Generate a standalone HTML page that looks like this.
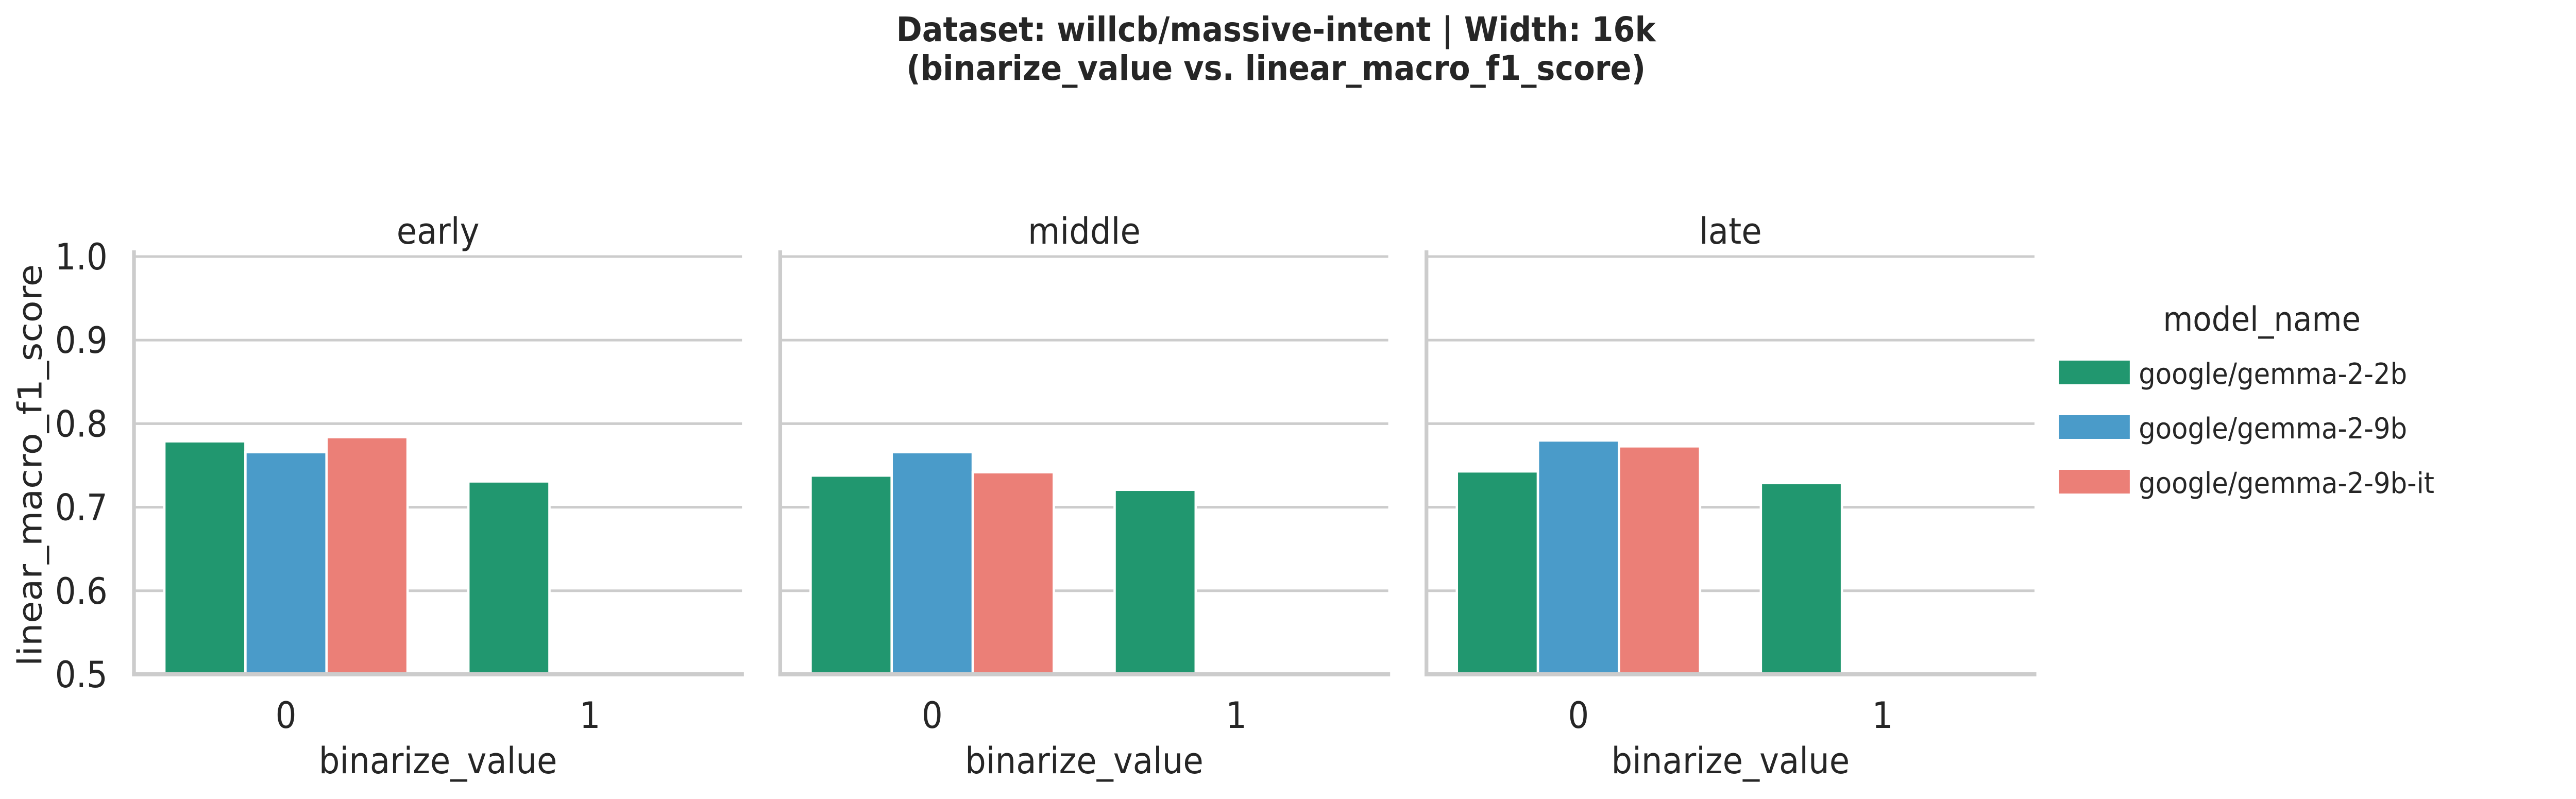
<!DOCTYPE html>
<html><head><meta charset="utf-8">
<style>
html,body{margin:0;padding:0;background:#fff;width:100%;height:100%;overflow:hidden;}
svg{display:block;width:100vw;height:100vh;font-family:"DejaVu Sans","Liberation Sans",sans-serif;}
</style></head>
<body>
<svg id="chart" viewBox="0 0 5461 1551" preserveAspectRatio="none" xmlns="http://www.w3.org/2000/svg">
<rect width="5461" height="1551" fill="#fff"/>
<text x="2705" y="80" text-anchor="middle" font-size="66" font-weight="bold" fill="#262626">Dataset: willcb/massive-intent | Width: 16k</text>
<text x="2705" y="155" text-anchor="middle" font-size="66" font-weight="bold" fill="#262626">(binarize_value vs. linear_macro_f1_score)</text>
<g id="panels"></g>
<text transform="translate(88,903) rotate(-90)" text-anchor="middle" font-size="70" fill="#262626">linear_macro_f1_score</text>
<g>
<text x="4795" y="642" text-anchor="middle" font-size="65" fill="#262626">model_name</text>
<g id="legend-entries"></g>
</g>
</svg>
<script>
const panels = ["early", "middle", "late"];
const categories = ["0", "1"];
const models = ["google/gemma-2-2b", "google/gemma-2-9b", "google/gemma-2-9b-it"];
const colors = ["#21976f", "#4a9bc9", "#eb7f77"];
const yTicks = [0.5, 0.6, 0.7, 0.8, 0.9, 1.0];
const yTickLabels = ["0.5", "0.6", "0.7", "0.8", "0.9", "1.0"];
// values[panel][category][model]; null = no bar
const earlyValues = [[0.779, 0.766, 0.784], [0.731, null, null]];
const middleValues = [[0.738, 0.766, 0.742], [0.721, null, null]];
const lateValues = [[0.743, 0.780, 0.773], [0.729, null, null]];
const allValues = [earlyValues, middleValues, lateValues];

const NS = "http://www.w3.org/2000/svg";
const yMin = 0.5, yMax = 1.0, plotTop = 498, plotBottom = 1309;
const panelW = 1289, panelStep = 1370, firstLeft = 284;
function y(v){ return plotBottom - (v - yMin) / (yMax - yMin) * (plotBottom - plotTop); }
function mk(tag, attrs, parent){ const e = document.createElementNS(NS, tag); for (const k in attrs) e.setAttribute(k, attrs[k]); parent.appendChild(e); return e; }
const root = document.getElementById("panels");
panels.forEach((p, pi) => {
  const left = firstLeft + pi * panelStep;
  const g = mk("g", {}, root);
  
  
  function x(ci){ return left + (ci + 0.5) * panelW / categories.length; }
  yTicks.forEach((t, ti) => {
    if (t > yMin) {
      const gl = mk("line", {x1: left, x2: left + panelW, y1: y(t), y2: y(t), stroke: "#cccccc", "stroke-width": 5}, g);
      
      
    }
    if (pi === 0) {
      const tl = mk("text", {x: left - 56, y: y(t) + 25, "text-anchor": "end", "font-size": 70, fill: "#262626"}, g);
      tl.textContent = yTickLabels[ti];
      
      
    }
  });
  const bw = 0.8 * panelW / categories.length / models.length;
  categories.forEach((c, ci) => {
    const start = x(ci) - bw * models.length / 2;
    models.forEach((m, mi) => {
      const v = allValues[pi][ci][mi];
      if (v === null) return;
      const r = mk("rect", {x: start + mi * bw, y: y(v), width: bw, height: y(yMin) - y(v), fill: colors[mi], stroke: "#ffffff", "stroke-width": 5}, g);
      
      
    });
    const xl = mk("text", {x: x(ci), y: 1413, "text-anchor": "middle", "font-size": 70, fill: "#262626"}, g);
    xl.textContent = c;
    
    
  });
  const ls = mk("line", {x1: left, x2: left, y1: plotTop - 12, y2: plotBottom + 4, stroke: "#cccccc", "stroke-width": 8}, g);
  
  
  const bs = mk("line", {x1: left - 4, x2: left + panelW + 4, y1: plotBottom, y2: plotBottom, stroke: "#cccccc", "stroke-width": 8}, g);
  
  
  const st = mk("text", {x: left + panelW / 2, y: 473, "text-anchor": "middle", "font-size": 70, fill: "#262626"}, g);
  st.textContent = p;
  
  
  const xt = mk("text", {x: left + panelW / 2, y: 1501, "text-anchor": "middle", "font-size": 70, fill: "#262626"}, g);
  xt.textContent = "binarize_value";
  
  
});
const lg = document.getElementById("legend-entries");
models.forEach((m, i) => {
  const top = 700 + i * 106;
  const r = mk("rect", {x: 4365, y: top, width: 150, height: 46, fill: colors[i]}, lg);
  
  
  const t = mk("text", {x: 4534, y: top + 45, "font-size": 56, fill: "#262626"}, lg);
  t.textContent = m;
  
  
});
</script>
</body></html>
